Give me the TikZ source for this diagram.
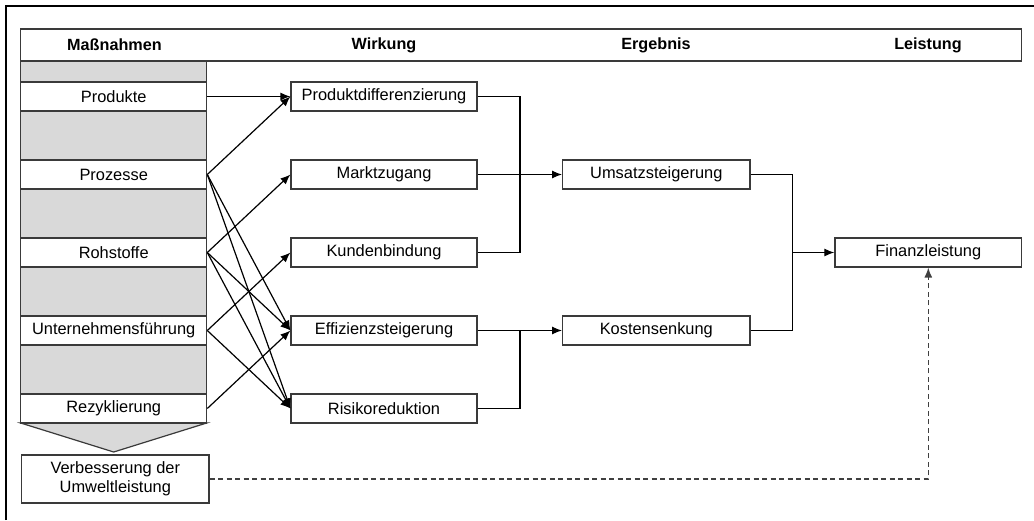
\documentclass[tikz,border=0pt]{standalone}
\usepackage{fontspec}
\setmainfont{Liberation Sans}
\usetikzlibrary{arrows.meta}
\definecolor{boxgray}{HTML}{D9D9D9}
\definecolor{edgegray}{HTML}{3A3A3A}
\tikzset{
  box/.style={draw=edgegray, line width=1.2pt, fill=white, minimum width=186pt, minimum height=29pt, inner sep=0pt, font=\fontsize{16.4}{19}\selectfont},
  colbox/.style={box, minimum width=186pt},
  hdr/.style={font=\fontsize{16.2}{19}\selectfont\bfseries, inner sep=0pt},
  conn/.style={line width=1.2pt, -{Latex[length=10pt,width=8pt]}},
  plainline/.style={line width=1.2pt},
  dashline/.style={line width=1.3pt, draw=black!75, dash pattern=on 5pt off 3.5pt, -{Latex[length=10pt,width=8pt]}}
}
\begin{document}
\begin{tikzpicture}[x=1pt, y=-1pt]
\useasboundingbox (0,0) rectangle (1034,520);
% outer frame
\draw[line width=1.4pt] (6,520) -- (6,6) -- (1034,6);
% header band
\draw[draw=edgegray, line width=1.2pt] (20.7,29) rectangle (1021.7,61);
\node[hdr] (hM) at (114.5,45) {Maßnahmen};
\node[hdr] (hW) at (384,45) {Wirkung};
\node[hdr] (hE) at (656,45) {Ergebnis};
\node[hdr] (hL) at (928,45) {Leistung};
% left column background
\draw[draw=edgegray, line width=1.2pt, fill=boxgray] (20.7,61) rectangle (206.7,423);
\draw[draw=edgegray, line width=1.2pt, fill=boxgray] (20.7,423) -- (206.7,423) -- (113.7,452) -- cycle;
% measures
\node[colbox] (prod) at (113.7,96.5) {Produkte};
\node[colbox] (proz) at (113.7,174.5) {Prozesse};
\node[colbox] (roh)  at (113.7,252.5) {Rohstoffe};
\node[colbox] (uf)   at (113.7,330.5) {Unternehmensführung};
\node[colbox] (rez)  at (113.7,408.5) {Rezyklierung};
\node[box, minimum width=187.3pt, minimum height=48pt, align=center] (verb) at (115.3,479) {Verbesserung der\\Umweltleistung};
% Wirkung
\node[box] (pd)  at (384,96.5)  {Produktdifferenzierung};
\node[box] (mz)  at (384,174.5) {Marktzugang};
\node[box] (kb)  at (384,252.5) {Kundenbindung};
\node[box] (ef)  at (384,330.5) {Effizienzsteigerung};
\node[box] (rr)  at (384,408.5) {Risikoreduktion};
% Ergebnis
\node[box, minimum width=187.3pt] (us) at (656.3,174.5) {Umsatzsteigerung};
\node[box, minimum width=187.3pt] (ks) at (656.3,330.5) {Kostensenkung};
% Leistung
\node[box, minimum width=186.7pt] (fl) at (928.3,252.5) {Finanzleistung};
% connectors from measures
\draw[conn] (prod.east) -- (pd.west);
\draw[conn] (proz.east) -- (pd.west);
\draw[conn] (proz.east) -- (ef.west);
\draw[conn] (proz.east) -- (rr.west);
\draw[conn] (roh.east) -- (mz.west);
\draw[conn] (roh.east) -- (ef.west);
\draw[conn] (roh.east) -- (rr.west);
\draw[conn] (uf.east) -- (kb.west);
\draw[conn] (uf.east) -- (rr.west);
\draw[conn] (rez.east) -- (ef.west);
% merge to Umsatz
\coordinate (m1a) at (520,96.5);
\coordinate (m1b) at (520,252.5);
\draw[plainline] (pd.east) -- (m1a) -- (m1b) -- (kb.east);
\draw[conn] (mz.east) -- (us.west);
% merge to Kosten
\coordinate (m2a) at (520,408.5);
\coordinate (m2b) at (520,330.5);
\draw[plainline] (rr.east) -- (m2a) -- (m2b);
\draw[conn] (ef.east) -- (ks.west);
% merge to Finanz
\coordinate (m3a) at (792.7,174.5);
\coordinate (m3b) at (792.7,330.5);
\coordinate (m3c) at (792.7,252.5);
\draw[plainline] (us.east) -- (m3a) -- (m3b) -- (ks.east);
\draw[conn] (m3c) -- (fl.west);
% dashed
\coordinate (dc) at (928.3,479);
\draw[dashline] (verb.east) -- (dc) -- (fl.south);
\end{tikzpicture}
\end{document}
